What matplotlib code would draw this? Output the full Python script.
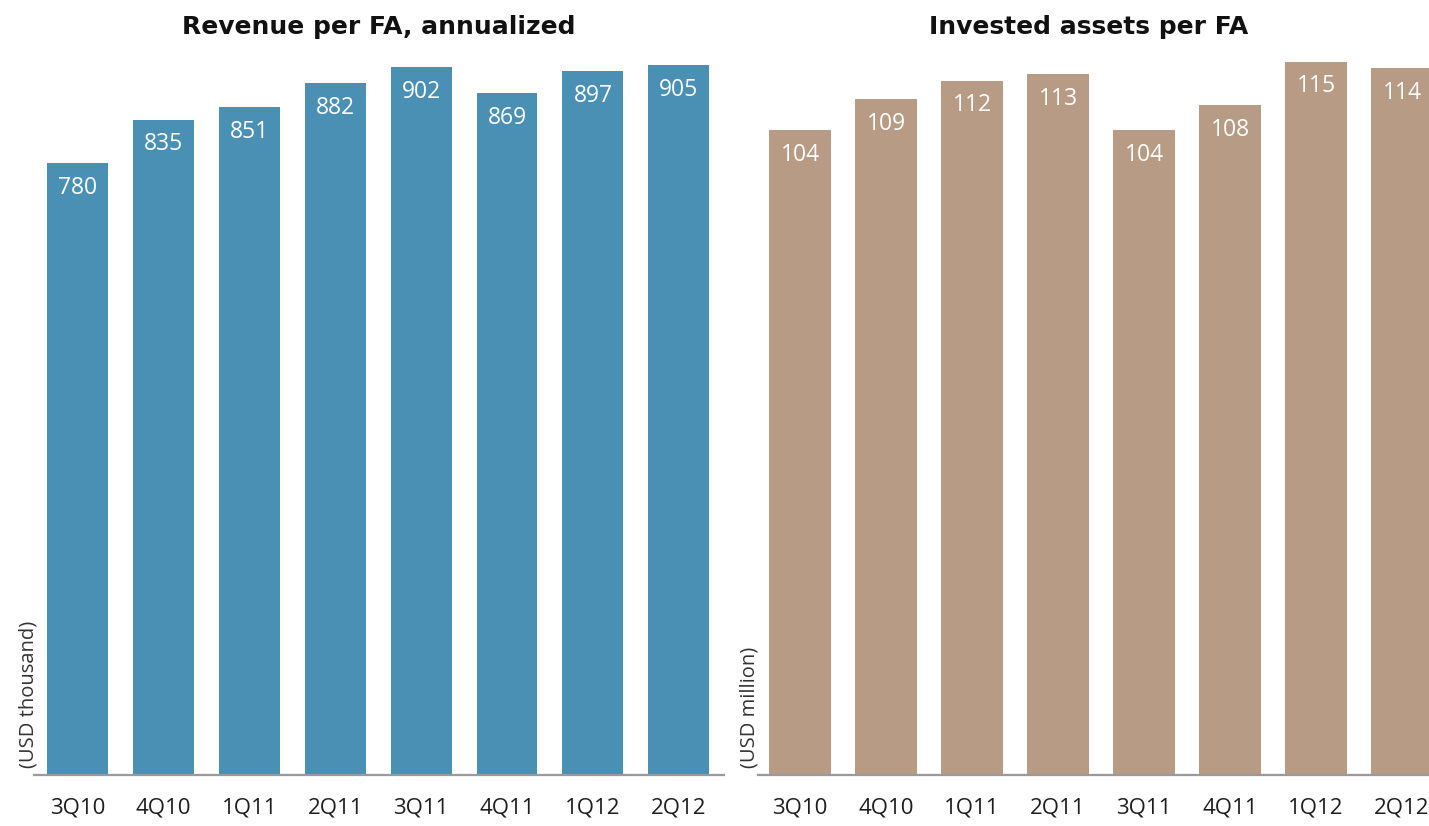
import matplotlib
matplotlib.use("Agg")
import matplotlib.pyplot as plt

plt.rcParams['font.family'] = ['Open Sans', 'DejaVu Sans']

quarters = ["3Q10", "4Q10", "1Q11", "2Q11", "3Q11", "4Q11", "1Q12", "2Q12"]
revenue_per_fa = [780, 835, 851, 882, 902, 869, 897, 905]
assets_per_fa = [104, 109, 112, 113, 104, 108, 115, 114]

W, H = 1429, 826
fig = plt.figure(figsize=(W / 100, H / 100), dpi=100)


def px_axes(x0, x1, y0, y1):
    # pixel box (top-left origin) -> figure fraction
    return fig.add_axes([x0 / W, 1 - y1 / H, (x1 - x0) / W, (y1 - y0) / H])


def bar_panel(ax, values, color, title, ymax, xlim):
    x = range(len(values))
    ax.bar(x, values, width=0.71, color=color, zorder=2)
    for i, v in zip(x, values):
        ax.annotate(str(v), (i, v), xytext=(0, -9), textcoords="offset points",
                    ha="center", va="top", color="white", fontsize=16.5)
    ax.set_xlim(*xlim)
    ax.set_ylim(0, ymax)
    ax.set_xticks(list(x))
    ax.set_xticklabels(quarters, fontsize=16, color="#1e1e1e")
    ax.tick_params(axis="x", length=0, pad=16)
    ax.set_yticks([])
    for side in ("top", "right", "left"):
        ax.spines[side].set_visible(False)
    ax.spines["bottom"].set_color("#9a9a9a")
    ax.spines["bottom"].set_linewidth(1.6)
    ax.set_title(title, fontsize=18, fontweight="bold", pad=19, color="#111111",
                 family="DejaVu Sans")


ax1 = px_axes(34, 724, 60, 775)
bar_panel(ax1, revenue_per_fa, "#4a90b5", "Revenue per FA, annualized",
          715 / 0.7845, ((34 - 77.5) / 85.9, (724 - 77.5) / 85.9))

ax2 = px_axes(758, 1440, 60, 775)
bar_panel(ax2, assets_per_fa, "#b89b84", "Invested assets per FA",
          715 / 6.2, ((758 - 800) / 86.0, (1440 - 800) / 86.0))
ax2.title.set_position((0.485, 1.0))

fig.text(29 / W, 1 - 768 / H, "(USD thousand)", rotation=90, ha="center", va="bottom",
         fontsize=14.5, color="#333333")
fig.text(749 / W, 1 - 768 / H, "(USD million)", rotation=90, ha="center", va="bottom",
         fontsize=14.5, color="#333333")

fig.savefig("out.png", dpi=100)
